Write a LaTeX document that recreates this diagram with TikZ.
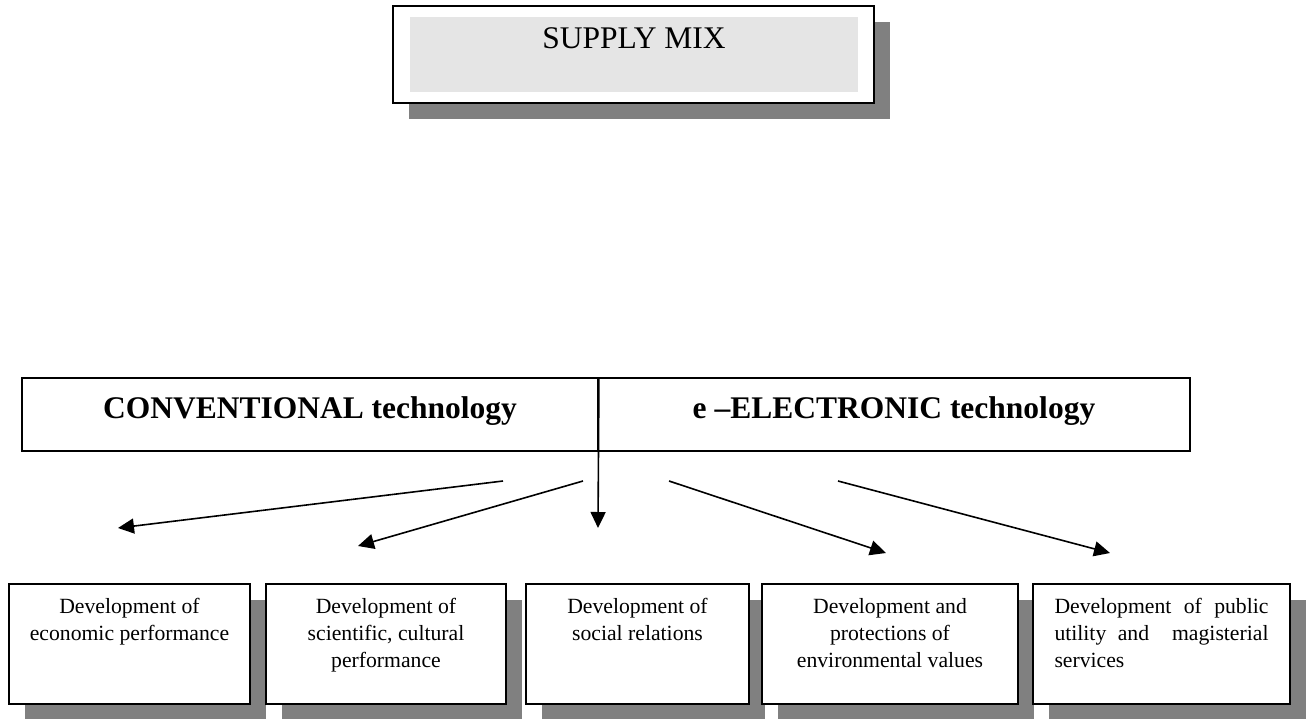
\documentclass[tikz,border=0pt]{standalone}
\usepackage{fontspec}
\setmainfont{Liberation Serif}
\usetikzlibrary{arrows.meta,shadows}
\definecolor{shadowgray}{HTML}{808080}
\definecolor{innergray}{HTML}{E5E5E5}
\tikzset{
  shadowed/.style={drop shadow={shadow xshift=16pt,shadow yshift=-16pt,fill=shadowgray,opacity=1}},
  frame/.style={draw=black,line width=1.9pt,fill=white},
  techbox/.style={draw=black,line width=1.9pt,inner sep=0pt,minimum height=73pt,
    text height=20pt,text depth=13pt,font=\fontsize{31.5}{36}\selectfont\bfseries},
  smallbox/.style={frame,shadowed,inner sep=0pt},
  arr/.style={line width=1.6pt,-{Triangle[length=16pt,width=15pt]}},
  smalltext/.style={font=\fontsize{21.7}{27}\selectfont}
}
\newcommand{\boxtext}[2]{\parbox[c][120pt][t]{#1}{\centering\rule{0pt}{29pt}#2}}
\begin{document}
\begin{tikzpicture}[x=1pt,y=-1pt]
\useasboundingbox (0,0) rectangle (1309,718);
% top box
\node[frame,shadowed,minimum width=481pt,minimum height=97pt,inner sep=0pt] (supply) at (633.5,54.5) {};
\node[fill=innergray,minimum width=448pt,minimum height=75pt,inner sep=0pt] (supplyin) at (634,54.5) {};
\node[anchor=base,font=\fontsize{31.5}{36}\selectfont,inner sep=0pt] (supplytxt) at (634,48) {SUPPLY MIX};
% technology box
\node[techbox,minimum width=576pt] (conv) at (310,414.5) {CONVENTIONAL technology};
\node[techbox,minimum width=592pt] (elec) at (894,414.5) {e –ELECTRONIC technology};
% arrows
\coordinate (s1) at (503,481); \coordinate (t1) at (118,528);
\coordinate (s2) at (583,481); \coordinate (t2) at (358,546);
\coordinate (t3) at (598,528);
\coordinate (s4) at (669,481); \coordinate (t4) at (886,553);
\coordinate (s5) at (838,481); \coordinate (t5) at (1110,553);
\draw[arr] (s1) -- (t1);
\draw[arr] (s2) -- (t2);
\draw[arr] (conv.north east) -- (t3);
\draw[arr] (s4) -- (t4);
\draw[arr] (s5) -- (t5);
% bottom boxes
\node[smallbox,smalltext] (b1) at (129.5,644) {\boxtext{241pt}{Development of\\economic performance}};
\node[smallbox,smalltext] (b2) at (386,644) {\boxtext{240pt}{Development of\\scientific, cultural\\performance}};
\node[smallbox,smalltext] (b3) at (637.5,644) {\boxtext{223pt}{Development of\\social relations}};
\node[smallbox,smalltext] (b4) at (890,644) {\boxtext{256pt}{Development and\\protections of\\environmental values}};
\node[smallbox,smalltext] (b5) at (1161.5,644) {\boxtext{257pt}{\makebox[214pt][s]{Development of public}\\\makebox[214pt][s]{utility and\ \ magisterial}\\\makebox[214pt][l]{services}}};
\end{tikzpicture}
\end{document}
